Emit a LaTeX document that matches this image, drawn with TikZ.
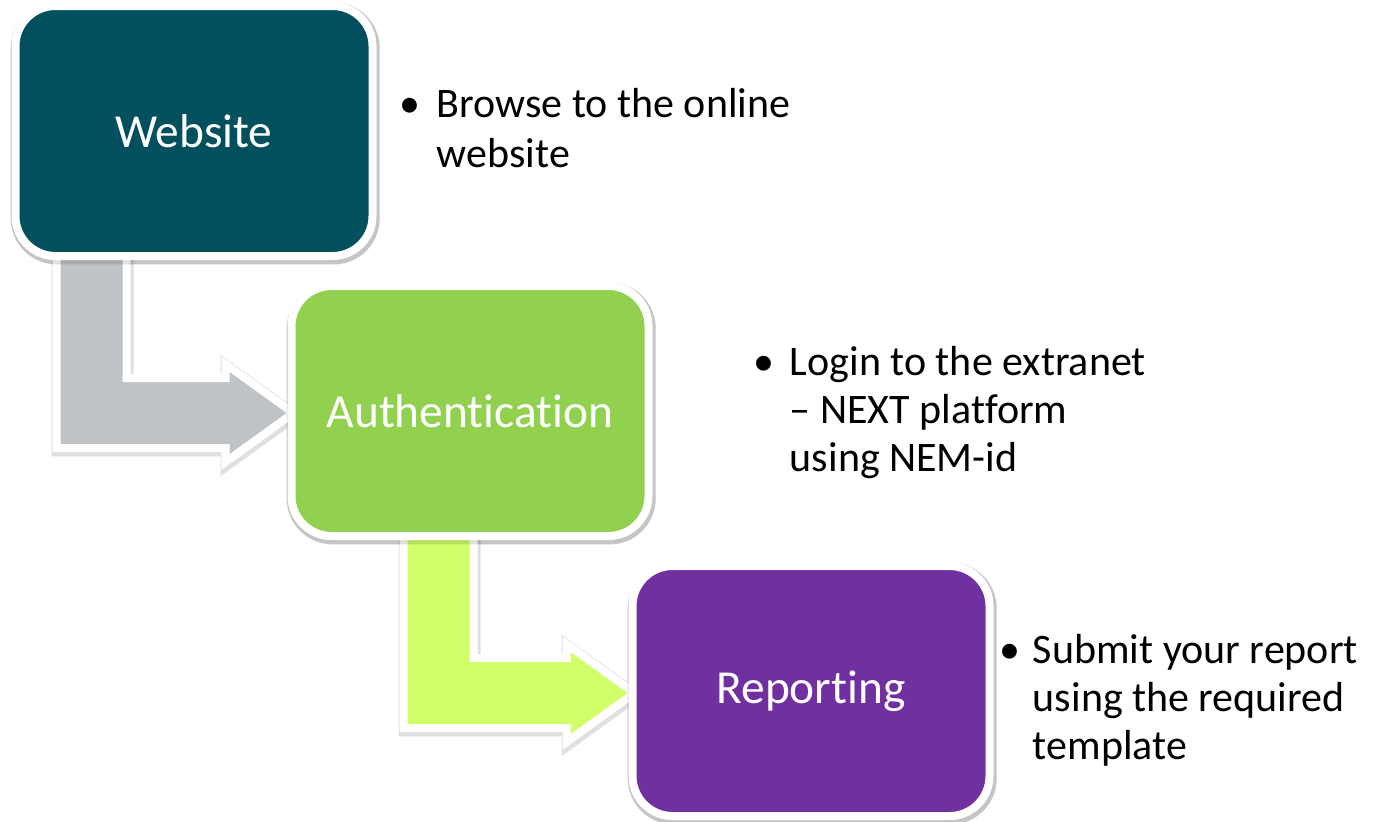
\documentclass[tikz,border=0pt]{standalone}
\usepackage{fontspec}
\setmainfont{Carlito}[Ligatures=NoCommon]
\usetikzlibrary{positioning,calc}

\definecolor{webteal}{RGB}{2,80,94}
\definecolor{authgreen}{RGB}{146,208,80}
\definecolor{reppurple}{RGB}{112,48,160}
\definecolor{arrowgray}{RGB}{191,195,198}
\definecolor{arrowlime}{RGB}{209,255,105}

% bent arrow from below one box into the side of the next
\newcommand{\elbowarrow}[4]{%
  \path[elbow, fill=#4] let \p1=(#1.south west), \p2=(#2.west) in
    (\x1+#3, \y1+20pt) -- (\x1+#3, \y2-18.5pt) -- (\x2-33pt, \y2-18.5pt)
    -- (\x2-33pt, \y2-25.5pt) -- (\x2+1pt, \y2-1pt) -- (\x2-33pt, \y2+23.5pt)
    -- (\x2-33pt, \y2+16.5pt) -- (\x1+#3+35pt, \y2+16.5pt)
    -- (\x1+#3+35pt, \y1+20pt) -- cycle;
}

\begin{document}
\begin{tikzpicture}
  [x=0.5pt, y=-0.5pt,
   softshadow/.style={preaction={draw=black, draw opacity=0.12, line width=6pt,
     transform canvas={xshift=0.6pt, yshift=-1.2pt}}},
   stepbox/.style={rounded corners=20pt, minimum width=178.5pt, minimum height=125pt,
     draw=white, line width=4pt, outer sep=0pt, text=white,
     font=\fontsize{23.7}{28}\selectfont, softshadow},
   elbow/.style={draw=white, line width=4pt, line join=miter, softshadow},
   note/.style={inner sep=0pt, font=\fontsize{21}{24}\selectfont}]
  \useasboundingbox (0,0) rectangle (1374,821);

  \coordinate (webpos) at (194,131);
  \coordinate (authpos) at (470,411);
  \coordinate (reppos) at (811,691);

  % arrows go first so the boxes sit on top of them
  \path (webpos) node[stepbox, opacity=0, preaction={}] (web0) {Website};
  \path (authpos) node[stepbox, opacity=0, preaction={}] (auth0) {Authentication};
  \path (reppos) node[stepbox, opacity=0, preaction={}] (rep0) {Reporting};
  \elbowarrow{web0}{auth0}{20.5pt}{arrowgray}
  \elbowarrow{auth0}{rep0}{56pt}{arrowlime}

  \node[stepbox, fill=webteal] (web) at (webpos) {Website};
  \node[stepbox, fill=authgreen] (auth) at (authpos) {Authentication};
  \node[stepbox, fill=reppurple] (rep) at (reppos) {Reporting};

  \node[note, right=13.5pt of web, yshift=-1pt] (webnote)
    {\begin{tabular}{@{}p{18.5pt}@{}l@{}}
      \textbullet & Browse to the online\\[1pt]
                  & website
     \end{tabular}};
  \node[note, right=52.5pt of auth, yshift=-1.5pt] (authnote)
    {\begin{tabular}{@{}p{18pt}@{}l@{}}
      \textbullet & Login to the extranet\\
                  & – NEXT platform\\
                  & using NEM-id
     \end{tabular}};
  \node[note, right=5pt of rep, yshift=-5.5pt] (repnote)
    {\begin{tabular}{@{}p{16.5pt}@{}l@{}}
      \textbullet & Submit your report\\
                  & using the required\\
                  & template
     \end{tabular}};
\end{tikzpicture}
\end{document}
